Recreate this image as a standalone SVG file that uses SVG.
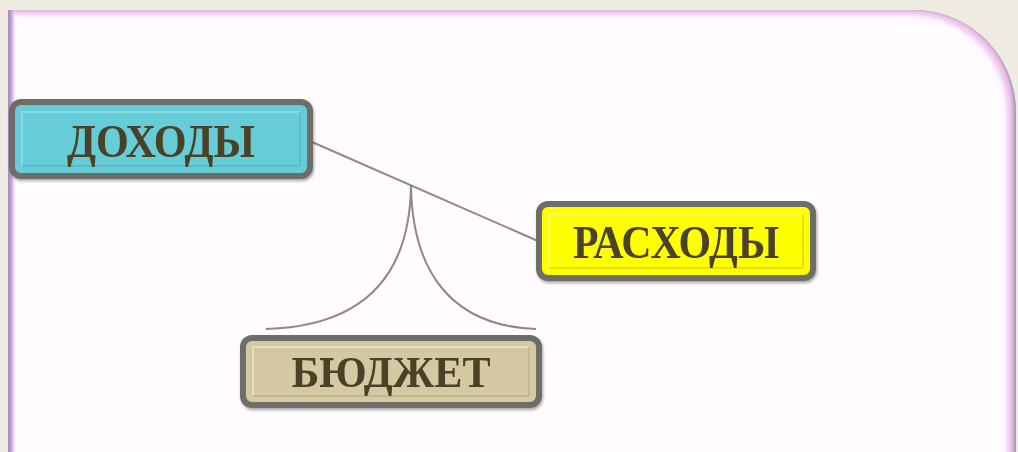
<svg xmlns="http://www.w3.org/2000/svg" width="1018" height="452" viewBox="0 0 1018 452">
<defs>
<style>
.outer{stroke:#6e6e68;stroke-width:6}
.bevel{fill:none;stroke-width:1.5}
.lbl{font-family:"Liberation Serif","Times New Roman",serif;font-weight:bold;fill:#4a4228;text-anchor:middle}
.conn{fill:none;stroke:#8a8a86;stroke-width:2}
</style>
<filter id="sh" x="-10%" y="-20%" width="120%" height="140%">
<feGaussianBlur in="SourceAlpha" stdDeviation="1.5"/>
<feOffset dx="1" dy="2"/>
<feComponentTransfer><feFuncA type="linear" slope="0.35"/></feComponentTransfer>
<feMerge><feMergeNode/><feMergeNode in="SourceGraphic"/></feMerge>
</filter>
<filter id="soft" x="-5%" y="-5%" width="110%" height="110%">
<feGaussianBlur stdDeviation="2.2"/>
</filter>
<clipPath id="pc">
<path d="M8,10 H914 A102,102 0 0 1 1016,112 V452 H8 Z"/>
</clipPath>
<linearGradient id="lg" x1="0" y1="0" x2="1" y2="0">
<stop offset="0" stop-color="#a888b8"/>
<stop offset="0.4" stop-color="#c8a4d8"/>
<stop offset="1" stop-color="#fffbff" stop-opacity="0"/>
</linearGradient>
</defs>
<rect width="1018" height="452" fill="#eeebe3"/>
<g id="panel">
<path d="M8,10 H914 A102,102 0 0 1 1016,112 V452 H8 Z" fill="#9a7f9c"/>
<g clip-path="url(#pc)">
<path d="M4,9 H912 A100,100 0 0 1 1014,110 V460 H4 Z" fill="#eec6ee" filter="url(#soft)"/>
<path d="M10,15 H908 A97,97 0 0 1 1007,112 V460 H10 Z" fill="#fffbff" filter="url(#soft)"/>
<rect x="8" y="10" width="9" height="442" fill="url(#lg)"/>
</g>
</g>
<g id="connectors">
<line class="conn" x1="312" y1="142" x2="538" y2="241"/>
<path class="conn" d="M266,329 C370,326 410,270 411,185 C412,270 450,326 536,329"/>
</g>
<g id="node-dohody" filter="url(#sh)">
<rect class="outer" x="12" y="102" width="298" height="74" rx="9" fill="#66ccd8"/>
<rect class="bevel" x="22" y="112" width="278" height="54" stroke="#8fe0ea"/>
<line x1="22" y1="166" x2="300" y2="166" stroke="#4fb0bc" stroke-width="1.5"/>
<line x1="300" y1="112" x2="300" y2="166" stroke="#4fb0bc" stroke-width="1.5"/>
<text class="lbl" x="161" y="157" font-size="47" textLength="188" lengthAdjust="spacingAndGlyphs">ДОХОДЫ</text>
</g>
<g id="node-rashody" filter="url(#sh)">
<rect class="outer" x="539" y="204" width="274" height="74" rx="9" fill="#ffff00"/>
<rect class="bevel" x="549" y="214" width="254" height="54" stroke="#ffff80"/>
<line x1="549" y1="268" x2="803" y2="268" stroke="#d8d800" stroke-width="1.5"/>
<line x1="803" y1="214" x2="803" y2="268" stroke="#d8d800" stroke-width="1.5"/>
<text class="lbl" x="676" y="258" font-size="46" textLength="206" lengthAdjust="spacingAndGlyphs">РАСХОДЫ</text>
</g>
<g id="node-budget" filter="url(#sh)">
<rect class="outer" x="243" y="338" width="296" height="67" rx="9" fill="#d4c9a3"/>
<rect class="bevel" x="253" y="347" width="276" height="49" stroke="#eee5c4"/>
<line x1="253" y1="396" x2="529" y2="396" stroke="#b5aa84" stroke-width="1.5"/>
<line x1="529" y1="347" x2="529" y2="396" stroke="#b5aa84" stroke-width="1.5"/>
<text class="lbl" x="391" y="387" font-size="45" textLength="199" lengthAdjust="spacingAndGlyphs">БЮДЖЕТ</text>
</g>
</svg>
